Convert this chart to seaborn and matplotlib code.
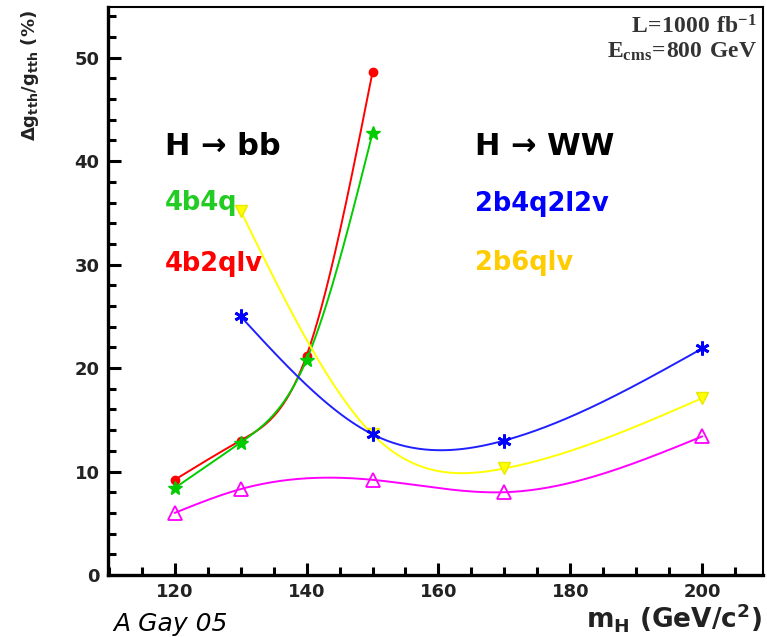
import numpy as np
import pandas as pd
import matplotlib
matplotlib.use("Agg")
import matplotlib.pyplot as plt
import seaborn as sns
from matplotlib.ticker import MultipleLocator

# values
mh_bb = [120, 130, 140, 150]
bb_4b2qlv = [9.2, 13.0, 21.2, 48.6]
bb_4b4q = [8.4, 12.8, 20.8, 42.7]

mh_ww = [130, 150, 170, 200]
ww_2b6qlv = [35.2, 13.6, 10.3, 17.1]
ww_2b4q2l2v = [25.0, 13.6, 13.0, 21.9]

mh_comb = [120, 130, 150, 170, 200]
combined = [6.0, 8.3, 9.2, 8.0, 13.4]


def smooth(x, y, n=300):
    # natural cubic spline, only used to draw the smooth ROOT-style curve
    x = np.asarray(x, float)
    y = np.asarray(y, float)
    k = len(x)
    h = np.diff(x)
    A = np.zeros((k, k))
    b = np.zeros(k)
    A[0, 0] = A[-1, -1] = 1
    for i in range(1, k - 1):
        A[i, i - 1] = h[i - 1]
        A[i, i] = 2 * (h[i - 1] + h[i])
        A[i, i + 1] = h[i]
        b[i] = 6 * ((y[i + 1] - y[i]) / h[i] - (y[i] - y[i - 1]) / h[i - 1])
    M = np.linalg.solve(A, b)
    xs = np.linspace(x[0], x[-1], n)
    j = np.clip(np.searchsorted(x, xs) - 1, 0, k - 2)
    t0 = x[j + 1] - xs
    t1 = xs - x[j]
    hh = h[j]
    ys = (M[j] * t0**3 + M[j + 1] * t1**3) / (6 * hh) \
        + (y[j] / hh - M[j] * hh / 6) * t0 + (y[j + 1] / hh - M[j + 1] * hh / 6) * t1
    return xs, ys


sns.set_theme(style="ticks")
plt.rcParams['font.family'] = ['DejaVu Sans']
plt.rcParams['mathtext.fontset'] = 'custom'
plt.rcParams['mathtext.rm'] = 'DejaVu Sans:bold'
plt.rcParams['mathtext.bf'] = 'DejaVu Sans:bold'
plt.rcParams['mathtext.sf'] = 'Liberation Serif:bold'
plt.rcParams['mathtext.default'] = 'rm'

fig = plt.figure(figsize=(7.67, 6.37), dpi=100)
ax = fig.add_axes([108 / 767, 1 - 575 / 637, 655 / 767, 568 / 637])

series = [
    (mh_bb, bb_4b2qlv, "#ff0000", dict(marker="o", ms=6, mfc="#ff0000", mec="#ff0000")),
    (mh_bb, bb_4b4q, "#00cc00", dict(marker="*", ms=10, mfc="#00cc00", mec="#00cc00")),
    (mh_ww, ww_2b6qlv, "#ffff00", dict(marker="v", ms=8, mfc="#ffff00", mec="#e8e800")),
    (mh_ww, ww_2b4q2l2v, "#2020ff", dict(marker=(6, 2, 0), ms=10, mew=2, mec="#0000ff")),
    (mh_comb, combined, "#ff00ff", dict(marker="^", ms=10, mfc="none", mec="#ff00ff", mew=1.3)),
]
for xv, yv, col, mk in series:
    xs, ys = smooth(xv, yv)
    curve = pd.DataFrame({"mH": xs, "dg": ys})
    sns.lineplot(data=curve, x="mH", y="dg", color=col, lw=1.4, ax=ax, sort=False)
    ax.plot(xv, yv, ls="none", **mk)

ax.set_xlim(109.9, 209.2)
ax.set_ylim(0, 54.9)
ax.xaxis.set_major_locator(MultipleLocator(20))
ax.xaxis.set_minor_locator(MultipleLocator(5))
ax.yaxis.set_major_locator(MultipleLocator(10))
ax.yaxis.set_minor_locator(MultipleLocator(2))
ax.tick_params(which="both", direction="in", width=2.2, colors="black",
               top=False, right=False)
ax.tick_params(which="major", length=9, pad=6)
ax.tick_params(which="minor", length=5.5)
for lab in ax.get_xticklabels() + ax.get_yticklabels():
    lab.set_fontweight("bold")
    lab.set_fontsize(13)
    lab.set_color("#222222")
for side in ["left", "bottom"]:
    ax.spines[side].set_linewidth(2.4)
for side in ["top", "right"]:
    ax.spines[side].set_linewidth(1.5)
for sp in ax.spines.values():
    sp.set_color("black")
ax.set_xlabel("")
ax.set_ylabel("")

fig.text(30 / 767, 1 - 10 / 637, r"$\Delta$g$_{tth}$/g$_{tth}$ (%)", rotation=90,
         ha="center", va="top", fontsize=13, fontweight="bold", color="#222222")
fig.text(762 / 767, 1 - 628 / 637, r"m$_{H}$ (GeV/c$^{2}$)", ha="right",
         va="baseline", fontsize=19, fontweight="bold", color="#222222")
fig.text(113 / 767, 0.002, "A Gay 05", ha="left", va="bottom", fontsize=18,
         style="italic", color="black")

ax.text(0.991, 0.954, r"$\mathsf{L\!=\!1000\ fb^{-1}}$", transform=ax.transAxes,
        ha="right", va="baseline", fontsize=17, color="#333333")
ax.text(0.991, 0.910, r"$\mathsf{E_{cms}\!=\!800\ GeV}$", transform=ax.transAxes,
        ha="right", va="baseline", fontsize=17, color="#333333")

big = dict(fontweight="bold", va="baseline", ha="left")
ax.text(118.5, 40.6, "H → bb", fontsize=22, color="black", **big)
ax.text(118.5, 35.3, "4b4q", fontsize=18.5, color="#22cc22", **big)
ax.text(118.5, 29.4, "4b2qlv", fontsize=18.5, color="#ff0000", **big)
ax.text(165.5, 40.6, "H → WW", fontsize=22, color="black", **big)
ax.text(165.5, 35.2, "2b4q2l2v", fontsize=18.5, color="#0000ff", **big)
ax.text(165.5, 29.5, "2b6qlv", fontsize=18.5, color="#ffcc00", **big)

fig.savefig("out.png", dpi=100)
